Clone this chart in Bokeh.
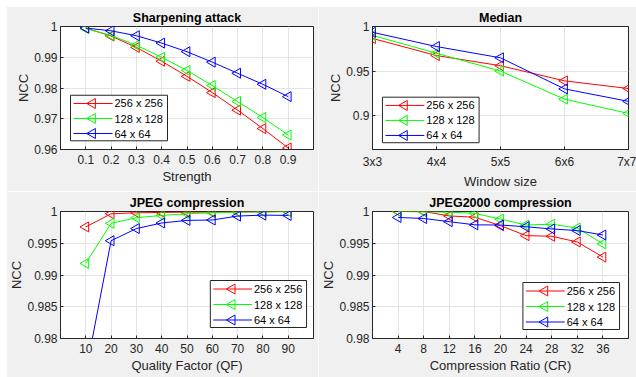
import math
from bokeh.plotting import figure
from bokeh.layouts import gridplot, column, row
from bokeh.models import FixedTicker, NumeralTickFormatter, Range1d, Spacer
from bokeh.core.properties import value
from bokeh.embed import file_html
from bokeh.resources import INLINE

series_names = ["256 x 256", "128 x 128", "64 x 64"]
series_colors = ["#ff0000", "#00ff00", "#0000ff"]

# Sharpening attack
sharp_x = [0.1, 0.2, 0.3, 0.4, 0.5, 0.6, 0.7, 0.8, 0.9]
sharp_256 = [0.9995, 0.9969, 0.9932, 0.9887, 0.9838, 0.9785, 0.9728, 0.9668, 0.9605]
sharp_128 = [0.9993, 0.9971, 0.9939, 0.9900, 0.9857, 0.9808, 0.9756, 0.9704, 0.9647]
sharp_64 = [0.9995, 0.9986, 0.9970, 0.9946, 0.9918, 0.9884, 0.9848, 0.9812, 0.9772]

# Median
median_x = [3, 4, 5, 6, 7]
median_labels = ["3x3", "4x4", "5x5", "6x6", "7x7"]
median_256 = [0.9866, 0.9674, 0.9560, 0.9390, 0.9304]
median_128 = [0.9900, 0.9700, 0.9500, 0.9185, 0.9025]
median_64 = [0.9935, 0.9775, 0.9649, 0.9300, 0.9160]

# JPEG compression
jpeg_x = [10, 20, 30, 40, 50, 60, 70, 80, 90]
jpeg_256 = [0.99757, 0.99964, 0.99980, 0.99985, 0.99990, 0.99990, 0.99995, 0.99995, 1.0]
jpeg_128 = [0.99183, 0.99814, 0.99902, 0.99938, 0.99964, 0.99980, 0.99990, 0.99995, 1.0]
jpeg_64 = [0.9746, 0.99540, 0.99731, 0.99819, 0.99860, 0.99866, 0.99928, 0.99943, 0.99938]

# JPEG2000 compression
j2k_x = [4, 8, 12, 16, 20, 24, 28, 32, 36]
j2k_256 = [1.0, 1.0, 0.9993, 0.9991, 0.99777, 0.9962, 0.9961, 0.9952, 0.99283]
j2k_128 = [1.0, 0.99995, 0.9999, 0.9997, 0.9988, 0.99787, 0.9980, 0.9974, 0.9949]
j2k_64 = [0.99906, 0.9989, 0.9984, 0.9979, 0.99787, 0.9976, 0.99725, 0.9970, 0.9963]

FONT = "Liberation Sans"
AX = "#262626"
MARKER_SIZE = 10


def add_legend(p, fw, fh, left, bottom):
    # legend drawn in a pixel-based coordinate system of the plot frame
    p.extra_x_ranges["px"] = Range1d(0, fw)
    p.extra_y_ranges["px"] = Range1d(0, fh)
    W, H = 97, 47
    kw = dict(x_range_name="px", y_range_name="px")
    p.quad(left=[left], right=[left + W], bottom=[bottom], top=[bottom + H],
           fill_color="white", line_color=AX, line_width=1, **kw)
    for i, (name, col) in enumerate(zip(series_names, series_colors)):
        yy = bottom + H - 8.5 - 15.5 * i
        p.segment(x0=[left + 3], x1=[left + 42], y0=[yy], y1=[yy],
                  line_color=col, line_width=1, **kw)
        p.scatter(x=[left + 22], y=[yy], marker="triangle", angle=math.pi / 2,
                  size=MARKER_SIZE, line_color=col, fill_color=None, line_width=1, **kw)
        p.text(x=[left + 44], y=[yy], text=[name], text_font=value(FONT),
               text_font_size=value("11px"), text_color="black",
               text_baseline="middle", text_align="left", **kw)


def make_panel(title, x, ys, xr, yr, xticks, yticks, xlabel, xfmt, yfmt,
               w, h, bl, br, bt, bb, leg_pos, xoverrides=None):
    p = figure(width=w, height=h, output_backend="svg", toolbar_location=None,
               x_range=Range1d(*xr), y_range=Range1d(*yr),
               min_border_left=bl, min_border_right=br,
               min_border_top=bt, min_border_bottom=bb)
    p.border_fill_color = "#f0f0f0"
    p.background_fill_color = "white"
    p.outline_line_color = AX
    p.outline_line_width = 1
    p.title.text = title
    p.title.align = "center"
    p.title.text_font = FONT
    p.title.text_font_size = "12.5px"
    p.title.text_font_style = "bold"
    p.title.text_color = "black"
    p.title.text_line_height = 1.0
    p.title.standoff = 4
    p.title.offset = 0

    p.xaxis.ticker = FixedTicker(ticks=xticks)
    p.yaxis.ticker = FixedTicker(ticks=yticks)
    if xoverrides:
        p.xaxis.major_label_overrides = xoverrides
    else:
        p.xaxis.formatter = NumeralTickFormatter(format=xfmt)
    p.yaxis.formatter = NumeralTickFormatter(format=yfmt)
    p.xaxis.axis_label = xlabel
    p.yaxis.axis_label = "NCC"
    for ax in (p.xaxis, p.yaxis):
        ax.axis_line_color = AX
        ax.major_tick_line_color = AX
        ax.major_tick_in = 3
        ax.major_tick_out = 0
        ax.minor_tick_line_color = None
        ax.major_label_text_font = FONT
        ax.major_label_text_font_size = "12px"
        ax.major_label_text_color = AX
        ax.major_label_text_line_height = 1.0
        ax.axis_label_text_font = FONT
        ax.axis_label_text_font_size = "13px"
        ax.axis_label_text_font_style = "normal"
        ax.axis_label_text_color = AX
        ax.axis_label_text_line_height = 1.0
    p.xaxis.major_label_standoff = 5
    p.yaxis.major_label_standoff = 3
    p.xaxis.axis_label_standoff = 2
    p.yaxis.axis_label_standoff = 0
    p.grid.grid_line_color = "#e3e3e3"
    p.grid.grid_line_width = 1

    for name, col, y in zip(series_names, series_colors, ys):
        p.line(x, y, line_color=col, line_width=1)
        p.scatter(x, y, marker="triangle", angle=math.pi / 2, size=MARKER_SIZE,
                  line_color=col, fill_color=None, line_width=1)
    add_legend(p, w - bl - br, h - bt - bb, *leg_pos)
    return p


p1 = make_panel("Sharpening attack", sharp_x, [sharp_256, sharp_128, sharp_64],
                (0, 1), (0.96, 1.0), sharp_x, [0.96, 0.97, 0.98, 0.99, 1.0],
                "Strength", "0.[0]", "0.[000]",
                312, 185, 54, 5, 19, 39, (10, 9))
p2 = make_panel("Median", median_x, [median_256, median_128, median_64],
                (3, 7), (0.862, 1.0), median_x, [0.9, 0.95, 1.0],
                "Window size", "0", "0.[000]",
                318, 185, 53, 8, 19, 39, (10, 7),
                xoverrides={k: v for k, v in zip(median_x, median_labels)})
p3 = make_panel("JPEG compression", jpeg_x, [jpeg_256, jpeg_128, jpeg_64],
                (0, 100), (0.98, 1.0), jpeg_x, [0.98, 0.985, 0.99, 0.995, 1.0],
                "Quality Factor (QF)", "0", "0.[000]",
                312, 186, 54, 3, 20, 39, (151, 11))
p4 = make_panel("JPEG2000 compression", j2k_x, [j2k_256, j2k_128, j2k_64],
                (0, 40), (0.98, 1.0), j2k_x, [0.98, 0.985, 0.99, 0.995, 1.0],
                "Compression Ratio (CR)", "0", "0.[000]",
                318, 186, 53, 8, 20, 39, (151, 9))

grid = gridplot([[p1, p2], [p3, p4]], toolbar_location=None)
layout = column(Spacer(height=6), row(Spacer(width=6), grid))

open("out.html", "w").write(file_html(layout, INLINE))
